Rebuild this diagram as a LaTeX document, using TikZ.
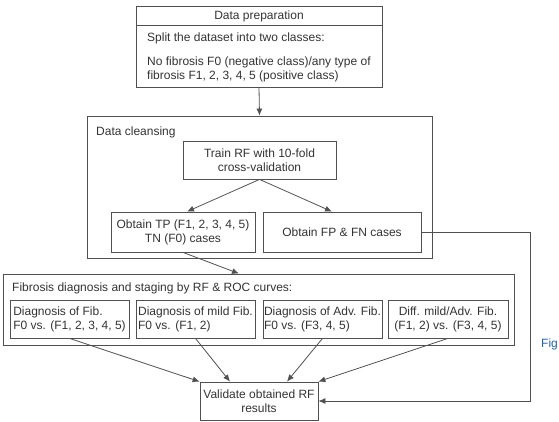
\documentclass[tikz,border=0pt]{standalone}
\usepackage{fontspec}
\setmainfont{Liberation Sans}
\usetikzlibrary{arrows.meta}
\definecolor{ln}{HTML}{505050}
\definecolor{tx}{HTML}{333333}
\definecolor{figblue}{HTML}{2060B0}
\tikzset{
  box/.style={draw=ln, line width=0.8pt, rectangle, inner sep=2pt, text=tx, align=center},
  subbox/.style={box, align=left, inner sep=1pt, minimum width=119pt, minimum height=38pt},
  lbl/.style={text=tx, inner sep=0pt, anchor=west},
  arr/.style={draw=ln, line width=0.8pt, -{Latex[length=7pt,width=6pt]}},
  every node/.append style={font=\fontsize{12}{14}\selectfont}
}
\begin{document}
\begin{tikzpicture}[x=1pt,y=-1pt]
\useasboundingbox (0,0) rectangle (559,422);
% Data preparation
\node[box, minimum width=246pt, minimum height=81pt] (prep) at (259,46.5) {};
\draw[draw=ln, line width=0.8pt] ([yshift=-20pt]prep.north west) -- ([yshift=-20pt]prep.north east);
\node[text=tx, inner sep=0pt] (preptitle) at (259,16.5) {Data preparation};
\node[lbl, anchor=north west, align=left] (preptext) at (147,32.5) {Split the dataset into two classes:\\[10pt]No fibrosis F0 (negative class)/any type of\\fibrosis F1, 2, 3, 4, 5 (positive class)};
% Data cleansing
\node[box, minimum width=345pt, minimum height=142pt] (clean) at (259.5,187) {};
\node[lbl] (cleanlbl) at (96,132) {Data cleansing};
\node[box, minimum width=153pt, minimum height=38pt] (train) at (259.5,160) {Train RF with 10-fold\\cross-validation};
\node[box, minimum width=144pt, minimum height=40pt] (tp) at (183,232) {Obtain TP (F1, 2, 3, 4, 5)\\TN (F0) cases};
\node[box, minimum width=158pt, minimum height=40pt] (fp) at (342,232) {Obtain FP \& FN cases};
% Fibrosis diagnosis
\node[box, minimum width=511pt, minimum height=71pt] (fib) at (258.5,309.5) {};
\node[lbl] (fiblbl) at (12,288) {Fibrosis diagnosis and staging by RF \& ROC curves:};
\node[subbox] (b1) at (69.5,319) {Diagnosis of Fib.\\F0 vs. (F1, 2, 3, 4, 5)};
\node[subbox] (b2) at (195.5,319) {Diagnosis of mild Fib.\\F0 vs. (F1, 2)};
\node[subbox] (b3) at (322.5,319) {Diagnosis of Adv. Fib.\\F0 vs. (F3, 4, 5)};
\node[box, minimum width=120pt, minimum height=38pt] (b4) at (448,319) {Diff. mild/Adv. Fib.\\(F1, 2) vs. (F3, 4, 5)};
% Validate
\node[box, minimum width=118pt, minimum height=38pt] (val) at (259,401) {Validate obtained RF\\results};
\coordinate (fbx) at (530,0);
% connectors
\draw[arr] (prep.south) -- (clean.north);
\draw[arr] (train.south) -- ([xshift=4pt]tp.north);
\draw[arr] (train.south) -- ([xshift=-10pt]fp.north);
\draw[arr] (tp.south) -- ([xshift=-19.5pt]fib.north);
\draw[arr] (b1.south) -- (val.north west);
\draw[arr] (b2.south) -- ([xshift=-29pt]val.north);
\draw[arr] (b3.south) -- ([xshift=28pt]val.north);
\draw[arr] (b4.south) -- (val.north east);
\draw[arr] (fp.east) -- (fp.east -| fbx) |- (val.east);
% clipped caption fragment
\node[anchor=west, inner sep=0pt, text=figblue, font=\fontsize{12}{14}\selectfont] (fig) at (541,344) {Fig};
\end{tikzpicture}
\end{document}
